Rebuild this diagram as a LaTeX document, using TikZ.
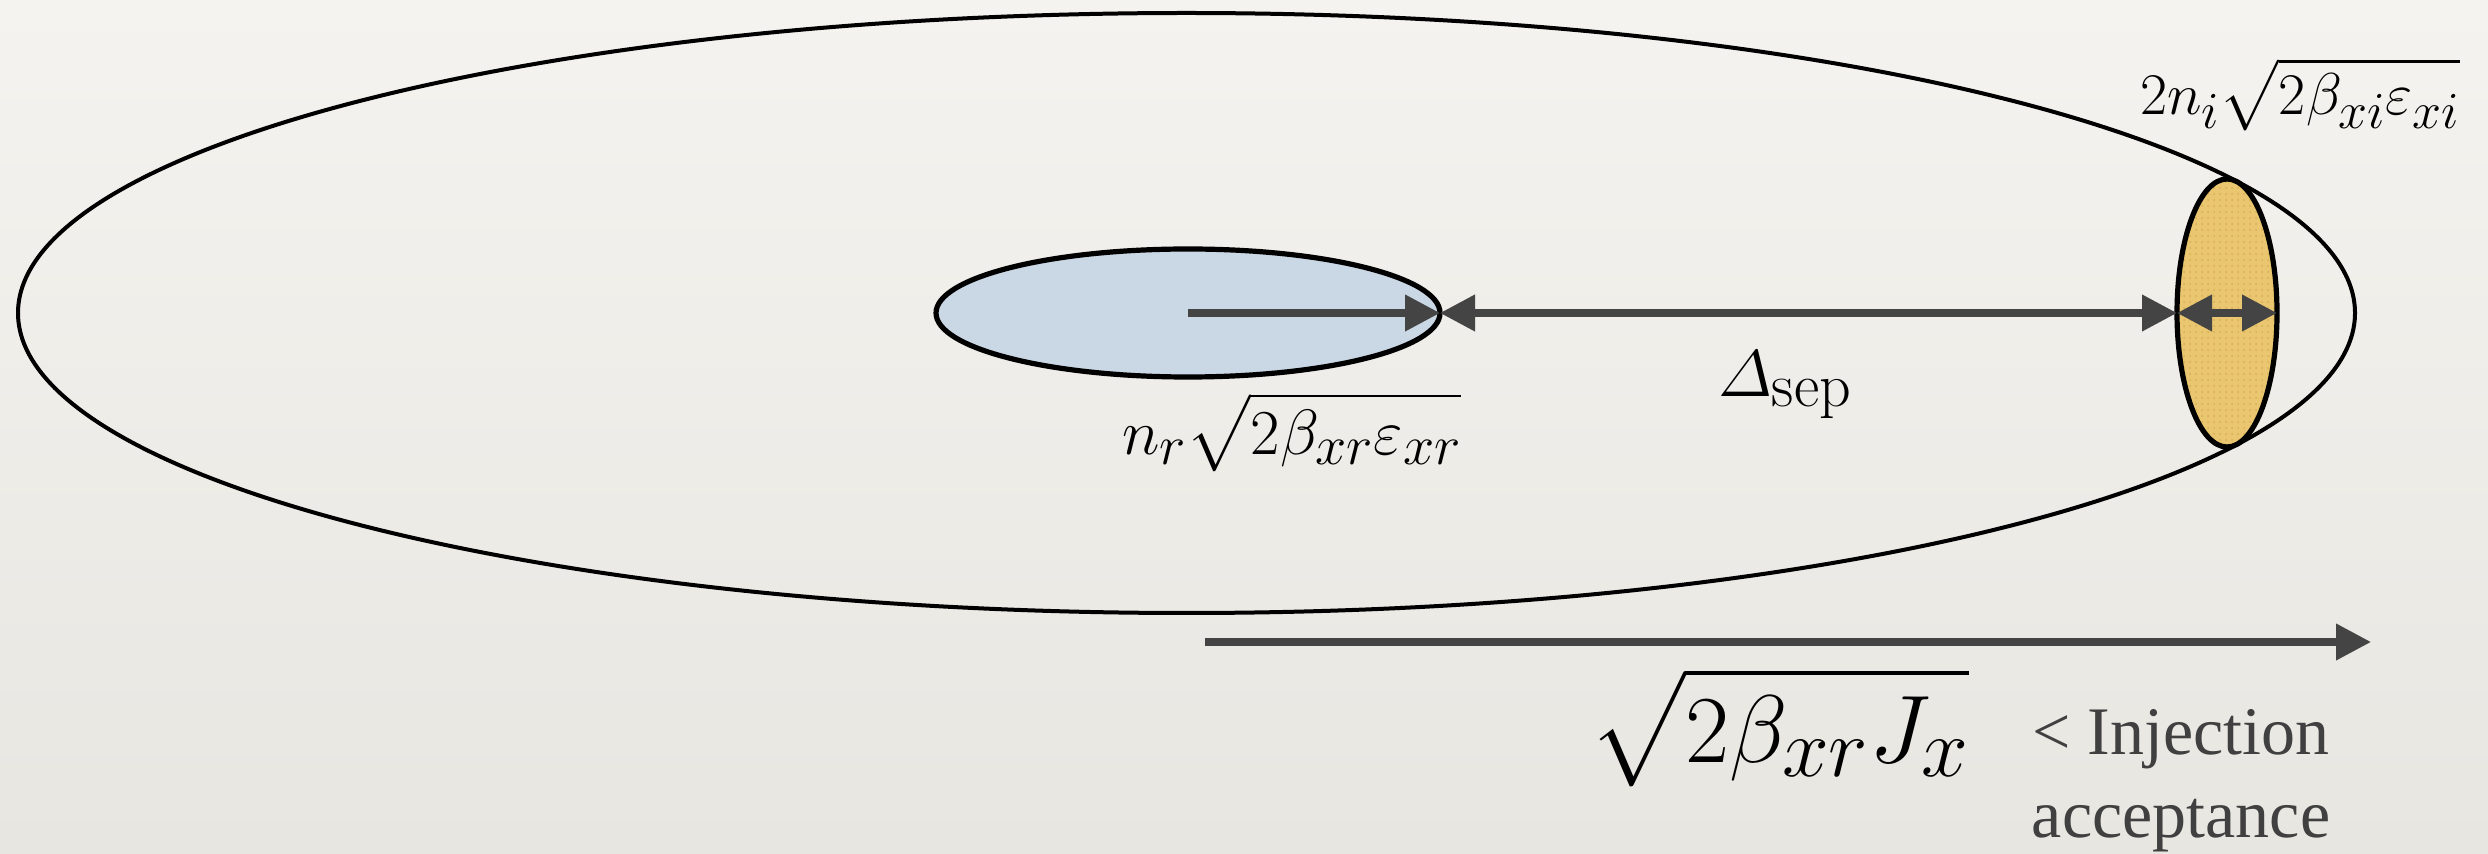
\RequirePackage{fix-cm}
\documentclass[tikz,border=0pt]{standalone}
\usepackage{amsmath}
\DeclareFontShape{OMX}{cmex}{m}{n}{<->cmex10}{}
\DeclareMathSizes{48}{48}{42}{35}
\DeclareMathSizes{32}{32}{28}{23}
\DeclareMathSizes{29.5}{29.5}{26}{21}
\usepackage{fontspec}
\newfontfamily\txtfont{Liberation Serif}
\usetikzlibrary{shapes.geometric,arrows.meta,patterns}
\definecolor{paperA}{HTML}{F4F3EF}
\definecolor{paperB}{HTML}{E8E6E1}
\definecolor{arrowgray}{HTML}{444444}
\definecolor{textgray}{HTML}{404040}
\definecolor{beamblue}{HTML}{CAD7E4}
\definecolor{beamyellow}{HTML}{E9C66F}
\definecolor{dotyellow}{HTML}{D6AF55}
\tikzset{
  ring/.style={ellipse, draw=black, line width=2pt, inner sep=0pt, outer sep=0pt},
  bluebeam/.style={ellipse, draw=black, line width=2.6pt, fill=beamblue, inner sep=0pt, outer sep=0pt},
  yellowbeam/.style={ellipse, draw=black, line width=2.6pt, preaction={fill=beamyellow}, pattern=dots, pattern color=dotyellow, inner sep=0pt, outer sep=0pt},
  arr/.style={draw=arrowgray, line width=3.6pt, -{Triangle[length=17.5pt,width=17.5pt]}},
  darr/.style={draw=arrowgray, line width=3.6pt, {Triangle[length=17.5pt,width=17.5pt]}-{Triangle[length=17.5pt,width=17.5pt]}},
  lbl/.style={inner sep=0pt, outer sep=0pt, anchor=base west}
}
\begin{document}
\begin{tikzpicture}[x=0.5pt,y=-0.5pt]
\shade[top color=paperA, bottom color=paperB] (0,0) rectangle (2488,854);
\useasboundingbox (0,0) rectangle (2488,854);
\node[ring, minimum width=1168.5pt, minimum height=300pt] (ring) at (1186.5,313) {};
\node[bluebeam, minimum width=252pt, minimum height=64pt] (rbeam) at (1188,313) {};
\node[yellowbeam, minimum width=50pt, minimum height=134pt] (ibeam) at (2227,313) {};
\draw[arr] (rbeam.center) -- (rbeam.east);
\draw[darr] (rbeam.east) -- (ibeam.west);
\draw[darr] (ibeam.west) -- (ibeam.east);
\coordinate (axstart) at (1205,642);
\coordinate (axend) at (2371,642);
\draw[arr] (axstart) -- (axend);
\node[lbl, font=\fontsize{29.5}{35}\selectfont] (ilabel) at (2140,115) {$\displaystyle 2n_i\sqrt{2\beta_{xi}\varepsilon_{xi}}$};
\node[lbl, font=\fontsize{32}{38}\selectfont] (rlabel) at (1122,455) {$\displaystyle n_r\sqrt{2\beta_{xr}\varepsilon_{xr}}$};
\node[lbl, font=\fontsize{33}{40}\selectfont] (dlabel) at (1718,397) {$\varDelta_{\text{\fontsize{31}{35}\selectfont sep}}$};
\node[lbl, font=\fontsize{48}{57}\selectfont] (jlabel) at (1589,762) {$\displaystyle\sqrt{2\beta_{xr}J_x}$};
\node[inner sep=0pt, align=center, text=textgray, font=\txtfont\fontsize{34}{41.5}\selectfont] (acc) at (2181,781) {< Injection\\ acceptance};
\end{tikzpicture}
\end{document}
